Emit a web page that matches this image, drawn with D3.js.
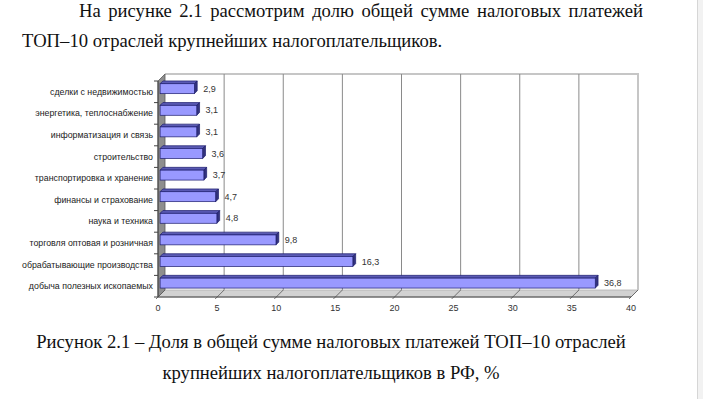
<!DOCTYPE html>
<html>
<head>
<meta charset="utf-8">
<script src="https://cdn.jsdelivr.net/npm/d3@7"></script>
<style>
  html, body { margin: 0; padding: 0; background: #fff; }
  svg { display: block; }
  .serif { font-family: "Times New Roman", "Liberation Serif", "DejaVu Serif", serif; }
  .sans { font-family: Arial, "Liberation Sans", sans-serif; }
</style>
</head>
<body>
<div id="chart"></div>
<script>
// data (top to bottom)
const categories = [
  'сделки с недвижимостью',
  'энергетика, теплоснабжение',
  'информатизация и связь',
  'строительство',
  'транспортировка и хранение',
  'финансы и страхование',
  'наука и техника',
  'торговля оптовая и розничная',
  'обрабатывающие производства',
  'добыча полезных ископаемых'
];
const values = [2.9, 3.1, 3.1, 3.6, 3.7, 4.7, 4.8, 9.8, 16.3, 36.8];
const xTickValues = [0, 5, 10, 15, 20, 25, 30, 35, 40];

const introLines = [
  'На рисунке 2.1 рассмотрим долю общей сумме налоговых платежей',
  'ТОП–10 отраслей крупнейших налогоплательщиков.'
];
const captionLines = [
  'Рисунок 2.1 – Доля в общей сумме налоговых платежей ТОП–10 отраслей',
  'крупнейших налогоплательщиков в РФ, %'
];

const width = 703, height = 399;
const svg = d3.select('#chart').append('svg')
  .attr('width', width)
  .attr('height', height);

// page edge on the right
svg.append('rect').attr('x', 697).attr('y', 0).attr('width', 6).attr('height', height)
  .attr('fill', '#f2f2f2');
svg.append('line').attr('x1', 697.5).attr('x2', 697.5).attr('y1', 0).attr('y2', height)
  .attr('stroke', '#d6d6d6');

// work out a font size so the caption line gets its width in the picture
const probe = svg.append('text').attr('class', 'serif')
  .style('font-size', '20px').text(captionLines[0]);
const fs = 20 * 590 / probe.node().getComputedTextLength();
probe.remove();

function serifLine(str, x, y, w, anchor, justify) {
  const t = svg.append('text')
    .attr('class', 'serif')
    .attr('x', x).attr('y', y)
    .attr('text-anchor', anchor)
    .style('font-size', fs + 'px')
    .attr('fill', '#111')
    .text(str);
  if (justify) {
    const natural = t.node().getComputedTextLength();
    const gaps = str.split(' ').length - 1;
    t.attr('word-spacing', (w - natural) / gaps);
  }
  return t;
}

serifLine(introLines[0], 79, 17, 564, 'start', true);
serifLine(introLines[1], 22, 47, 420, 'start', false);
serifLine(captionLines[0], 331, 348, 590, 'middle', false);
serifLine(captionLines[1], 331, 379, 339, 'middle', false);

// pseudo-3D geometry
const depth = { dx: 7, dy: -7 };
const f0 = 0.3, f1 = 0.7;

const x = d3.scaleLinear().domain([0, 40]).range([158, 631]);
const yTop = 81, yBot = 297;
const yBand = d3.scaleBand().domain(categories).range([yTop, yBot]);
const yBar = d3.scaleBand().domain(categories).range([yTop - 1, yBot - 1])
  .paddingInner(0.54).paddingOuter(0.27);

const g = svg.append('g');

// floor
g.append('polygon')
  .attr('points', [
    [x(0), yBot], [x(0) + depth.dx, yBot + depth.dy],
    [x(40) + depth.dx, yBot + depth.dy], [x(40), yBot]
  ].join(' '))
  .attr('fill', '#d2d2d2')
  .attr('stroke', '#b0b0b0')
  .attr('stroke-width', 0.8);

// back wall border
g.append('polyline')
  .attr('points', [
    [x(0) + depth.dx, yTop + depth.dy], [x(40) + depth.dx, yTop + depth.dy],
    [x(40) + depth.dx, yBot + depth.dy]
  ].join(' '))
  .attr('fill', 'none')
  .attr('stroke', '#c6c6c6')
  .attr('stroke-width', 2);

// gridlines on back wall and floor
const gridTicks = xTickValues.filter(d => d > 0 && d < 40);
g.selectAll('line.grid')
  .data(gridTicks)
  .enter().append('line')
  .attr('class', 'grid')
  .attr('x1', d => x(d) + depth.dx).attr('x2', d => x(d) + depth.dx)
  .attr('y1', yTop + depth.dy).attr('y2', yBot + depth.dy)
  .attr('stroke', '#8a8a8a').attr('stroke-width', 1);

g.selectAll('line.floor-tick')
  .data(xTickValues)
  .enter().append('line')
  .attr('class', 'floor-tick')
  .attr('x1', d => x(d) + depth.dx).attr('y1', yBot + depth.dy)
  .attr('x2', d => x(d) - 2).attr('y2', yBot + 2)
  .attr('stroke', '#555').attr('stroke-width', 0.8);

// left wall
g.append('polygon')
  .attr('points', [
    [x(0), yTop], [x(0) + depth.dx, yTop + depth.dy],
    [x(0) + depth.dx, yBot + depth.dy], [x(0), yBot]
  ].join(' '))
  .attr('fill', '#8e8e8e')
  .attr('stroke', '#5a5a5a')
  .attr('stroke-width', 0.8);

// axes lines
g.append('line')
  .attr('x1', x(0)).attr('x2', x(40)).attr('y1', yBot).attr('y2', yBot)
  .attr('stroke', '#444').attr('stroke-width', 1);
g.append('line')
  .attr('x1', x(0)).attr('x2', x(0)).attr('y1', yTop).attr('y2', yBot)
  .attr('stroke', '#444').attr('stroke-width', 1);

// category ticks on left axis
const catBounds = categories.map(c => yBand(c)).concat([yBot]);
g.selectAll('line.ytick')
  .data(catBounds)
  .enter().append('line')
  .attr('class', 'ytick')
  .attr('x1', x(0) - 4).attr('x2', x(0))
  .attr('y1', d => d).attr('y2', d => d)
  .attr('stroke', '#444');

// bars
const bars = g.selectAll('g.bar')
  .data(categories.map((c, i) => ({ c, v: values[i] })))
  .enter().append('g')
  .attr('class', 'bar');

const stroke = '#1c1c6e';

bars.append('polygon') // top face
  .attr('points', d => {
    const xa = x(0), xb = x(d.v), yt = yBar(d.c);
    return [
      [xa + f0 * depth.dx, yt + f0 * depth.dy], [xb + f0 * depth.dx, yt + f0 * depth.dy],
      [xb + f1 * depth.dx, yt + f1 * depth.dy], [xa + f1 * depth.dx, yt + f1 * depth.dy]
    ].join(' ');
  })
  .attr('fill', '#5a5ab4')
  .attr('stroke', stroke).attr('stroke-width', 0.7);

bars.append('polygon') // side face
  .attr('points', d => {
    const xb = x(d.v), yt = yBar(d.c), yb = yt + yBar.bandwidth();
    return [
      [xb + f0 * depth.dx, yt + f0 * depth.dy], [xb + f1 * depth.dx, yt + f1 * depth.dy],
      [xb + f1 * depth.dx, yb + f1 * depth.dy], [xb + f0 * depth.dx, yb + f0 * depth.dy]
    ].join(' ');
  })
  .attr('fill', '#33337c')
  .attr('stroke', stroke).attr('stroke-width', 0.7);

bars.append('rect') // front face
  .attr('x', x(0) + f0 * depth.dx)
  .attr('y', d => yBar(d.c) + f0 * depth.dy)
  .attr('width', d => x(d.v) - x(0))
  .attr('height', yBar.bandwidth())
  .attr('fill', '#9999ff')
  .attr('stroke', stroke).attr('stroke-width', 0.7);

// value labels
bars.append('text')
  .attr('class', 'sans')
  .attr('x', d => x(d.v) + f1 * depth.dx + 6)
  .attr('y', d => yBar(d.c) + f0 * depth.dy + yBar.bandwidth() / 2)
  .attr('dy', '0.35em')
  .style('font-size', '9px')
  .attr('fill', '#333')
  .text(d => d3.format('.1f')(d.v).replace('.', ','));

// category labels
g.selectAll('text.cat')
  .data(categories)
  .enter().append('text')
  .attr('class', 'cat sans')
  .attr('x', x(0) - 5)
  .attr('y', d => yBand(d) + yBand.bandwidth() / 2)
  .attr('dy', '0.35em')
  .attr('text-anchor', 'end')
  .style('font-size', '8.8px')
  .attr('fill', '#222')
  .text(d => d);

// x tick labels
g.selectAll('text.xtick')
  .data(xTickValues)
  .enter().append('text')
  .attr('class', 'xtick sans')
  .attr('x', d => x(d))
  .attr('y', yBot + 14)
  .attr('text-anchor', 'middle')
  .style('font-size', '9px')
  .attr('fill', '#333')
  .text(d => d);
</script>
</body>
</html>
